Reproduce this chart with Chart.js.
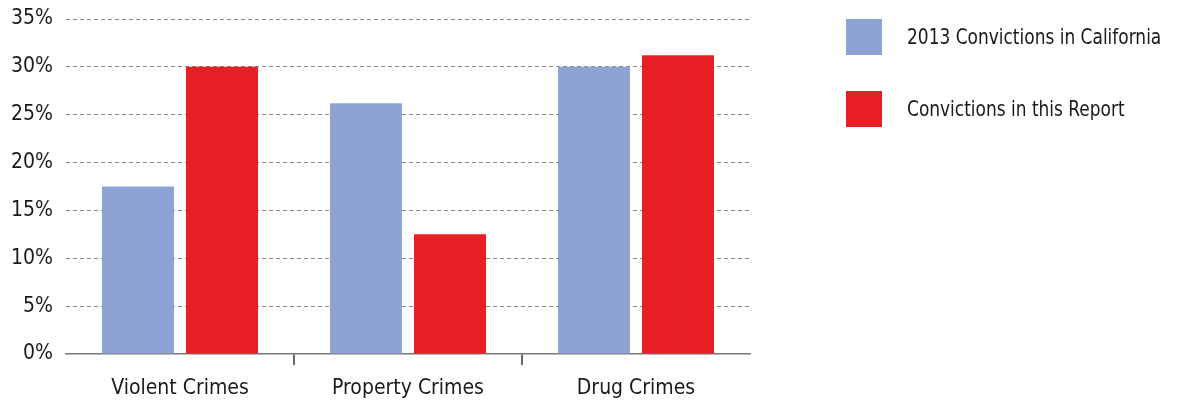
<!DOCTYPE html>
<html>
<head>
<meta charset="utf-8">
<script src="https://cdn.jsdelivr.net/npm/chart.js@4/dist/chart.umd.min.js"></script>
<style>
  html, body { margin: 0; padding: 0; background: #fff; }
  #wrap { position: relative; width: 1193px; height: 404px; }
  #legend { position: absolute; left: 846px; top: 19px; font-family: "Liberation Sans Narrow", "DejaVu Sans Condensed", sans-serif; font-size: 21px; color: #1a1a1a; white-space: nowrap; }
  .li { display: flex; align-items: center; height: 36px; margin-bottom: 36px; }
  .sw { width: 36px; height: 36px; margin-right: 25px; flex: none; }
  .tx { display: inline-block; transform: scaleX(0.9); transform-origin: left center; }
</style>
</head>
<body>
<div id="wrap">
  <canvas id="c" width="1193" height="404"></canvas>
  <div id="legend"></div>
</div>
<script>
const categories = ["Violent Crimes", "Property Crimes", "Drug Crimes"];
const seriesNames = ["2013 Convictions in California", "Convictions in this Report"];
const california2013 = [17.5, 26.2, 30.0];
const thisReport = [30.0, 12.5, 31.2];
const seriesColors = ["#8CA3D3", "#E81F26"];

const FONT = "'Liberation Sans Narrow', 'DejaVu Sans Condensed', sans-serif";
const N = categories.length;

const datasets = [california2013, thisReport].map((vals, i) => ({
  label: seriesNames[i],
  data: vals,
  backgroundColor: seriesColors[i],
  borderWidth: 0,
  categoryPercentage: 0.737,
  barPercentage: 0.857
}));

new Chart(document.getElementById('c'), {
  type: 'bar',
  data: { labels: categories, datasets },
  options: {
    responsive: false,
    animation: false,
    layout: { padding: { top: 19, right: 443, bottom: 0, left: 0 } },
    plugins: { legend: { display: false }, tooltip: { enabled: false } },
    scales: {
      x: {
        grid: {
          drawOnChartArea: false,
          drawTicks: true,
          tickLength: 11,
          lineWidth: 2,
          color: (ctx) => (ctx.index === undefined || ctx.index === 0 || ctx.index >= N) ? 'rgba(0,0,0,0)' : '#666'
        },
        border: { display: true, color: '#777', width: 1.5 },
        ticks: { color: '#1a1a1a', font: { family: FONT, size: 21 }, padding: 11 },
        afterFit: (s) => { s.height = 50; }
      },
      y: {
        min: 0, max: 35,
        ticks: { stepSize: 5, color: '#1a1a1a', font: { family: FONT, size: 21 }, padding: 13, callback: (v) => v + '%' },
        grid: { drawTicks: false, color: (ctx) => ctx.tick && ctx.tick.value === 0 ? 'rgba(0,0,0,0)' : '#888', lineWidth: 1 },
        border: { display: false, dash: [4, 3] },
        afterFit: (s) => { s.width = 66; s.paddingTop = 0; s.paddingBottom = 0; }
      }
    }
  }
});

const lg = document.getElementById('legend');
seriesNames.forEach((n, i) => {
  const d = document.createElement('div');
  d.className = 'li';
  d.innerHTML = '<div class="sw" style="background:' + seriesColors[i] + '"></div><span class="tx">' + n + '</span>';
  lg.appendChild(d);
});
</script>
</body>
</html>
